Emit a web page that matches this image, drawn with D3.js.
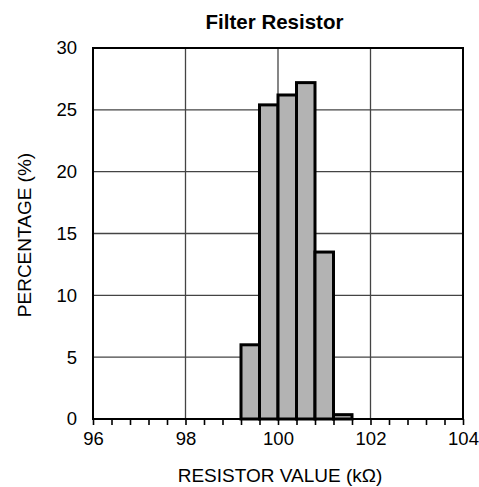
<!DOCTYPE html>
<html><head><meta charset="utf-8">
<script src="https://cdn.jsdelivr.net/npm/d3@7"></script>
<style>body{margin:0;background:#fff}svg{display:block}text{font-family:"Liberation Sans",Arial,sans-serif}</style>
</head><body><svg id="c" width="479" height="487"></svg>
<script>
const binStarts = [99.2, 99.6, 100.0, 100.4, 100.8, 101.2];
const binWidth = 0.4;
const percentages = [6.0, 25.4, 26.2, 27.2, 13.5, 0.35];
const xTicks = [96, 98, 100, 102, 104];
const yTicks = [0, 5, 10, 15, 20, 25, 30];
const title = "Filter Resistor";
const xLabel = "RESISTOR VALUE (kΩ)";
const yLabel = "PERCENTAGE (%)";

const svg = d3.select("#c");
const m = {l: 93, r: 463, t: 48, b: 419};
const x = d3.scaleLinear().domain([96, 104]).range([m.l, m.r]);
const y = d3.scaleLinear().domain([0, 30]).range([m.b, m.t]);

// grid
svg.append("g").selectAll("line").data(yTicks).join("line")
  .attr("x1", m.l).attr("x2", m.r).attr("y1", d => y(d)).attr("y2", d => y(d))
  .attr("stroke", "#444").attr("stroke-width", 1.3);
svg.append("g").selectAll("line").data(xTicks).join("line")
  .attr("y1", m.t).attr("y2", m.b).attr("x1", d => x(d)).attr("x2", d => x(d))
  .attr("stroke", "#444").attr("stroke-width", 1.3);

// bars
svg.append("g").selectAll("rect").data(binStarts).join("rect")
  .attr("x", d => x(d)).attr("width", d => x(d + binWidth) - x(d))
  .attr("y", (d, i) => y(percentages[i])).attr("height", (d, i) => y(0) - y(percentages[i]))
  .attr("fill", "#b3b3b3").attr("stroke", "#000").attr("stroke-width", 3);

// frame
svg.append("rect").attr("x", m.l).attr("y", m.t).attr("width", m.r - m.l).attr("height", m.b - m.t)
  .attr("fill", "none").attr("stroke", "#000").attr("stroke-width", 2);

// x axis
const xAxis = d3.axisBottom(x).tickValues(d3.range(96, 104.01, 0.4)).tickSize(6)
  .tickFormat(d => xTicks.some(t => Math.abs(t - d) < 1e-6) ? d3.format("d")(Math.round(d)) : "");
const gx = svg.append("g").attr("transform", `translate(0,${m.b})`).call(xAxis);
gx.select(".domain").remove();
gx.selectAll(".tick line").attr("stroke", "#000").attr("stroke-width", 1.6);
gx.selectAll(".tick text").attr("font-size", 18.5).attr("fill", "#000").attr("y", 26).attr("dy", 0)
  .attr("font-family", "Liberation Sans, Arial, sans-serif");

// y axis
const yAxis = d3.axisLeft(y).tickValues(yTicks).tickSize(0).tickPadding(16);
const gy = svg.append("g").attr("transform", `translate(${m.l},0)`).call(yAxis);
gy.select(".domain").remove();
gy.selectAll(".tick text").attr("font-size", 18.5).attr("fill", "#000")
  .attr("font-family", "Liberation Sans, Arial, sans-serif");

// labels
svg.append("text").attr("x", 274.5).attr("y", 29).attr("text-anchor", "middle")
  .attr("font-size", 20.5).attr("font-weight", "bold").text(title);
svg.append("text").attr("x", 280).attr("y", 481.5).attr("text-anchor", "middle")
  .attr("font-size", 19).text(xLabel);
svg.append("text").attr("transform", "translate(30.7,235) rotate(-90)").attr("text-anchor", "middle")
  .attr("font-size", 19).text(yLabel);
</script></body></html>
